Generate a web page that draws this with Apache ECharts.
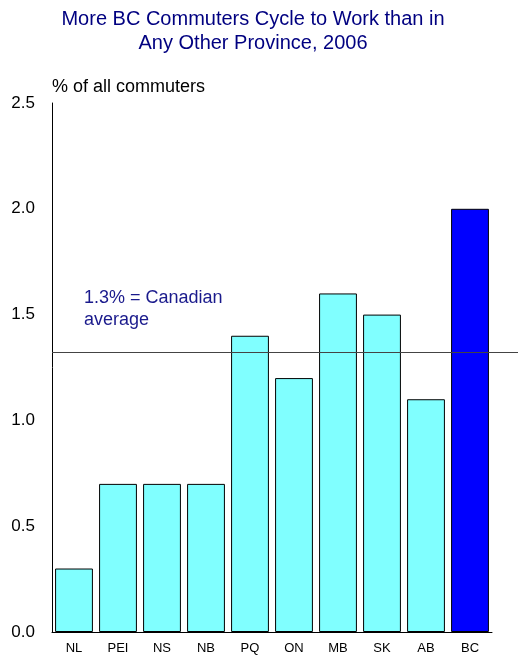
<!DOCTYPE html>
<html>
<head>
<meta charset="utf-8">
<script src="https://cdn.jsdelivr.net/npm/echarts@6/dist/echarts.min.js"></script>
<style>html,body{margin:0;padding:0;background:#fff}#c{width:518px;height:664px}</style>
</head>
<body>
<div id="c"></div>
<script>
var provinces = ['NL','PEI','NS','NB','PQ','ON','MB','SK','AB','BC'];
var cyclePct = [0.3, 0.7, 0.7, 0.7, 1.4, 1.2, 1.6, 1.5, 1.1, 2.0];
var canadianAverage = 1.32;
var yTicks = [0, 0.5, 1.0, 1.5, 2.0, 2.5];
var highlight = 'BC';

var chart = echarts.init(document.getElementById('c'), null, {renderer:'canvas'});
var font = 'Liberation Sans';
chart.setOption({
  animation: false,
  backgroundColor: '#fff',
  title: {
    text: 'More BC Commuters Cycle to Work than in\nAny Other Province, 2006',
    left: 248, textAlign: 'center', top: 2,
    textStyle: {fontFamily: font, fontSize: 20, fontWeight: 'normal', color: '#000080', lineHeight: 24}
  },
  grid: [
    {left: 52, right: 26, top: 103, bottom: 32},
    {left: 52, right: 0, top: 103, bottom: 32}
  ],
  xAxis: [
    {type: 'category', data: provinces, gridIndex: 0,
     axisLine: {lineStyle: {color: '#000', width: 1}},
     axisTick: {alignWithLabel: true, length: 5, lineStyle: {color: '#000'}},
     axisLabel: {fontFamily: font, fontSize: 13, color: '#000', margin: 10}},
    {type: 'value', gridIndex: 1, min: 0, max: 1, show: false}
  ],
  yAxis: [
    {type: 'value', gridIndex: 0, min: yTicks[0], max: yTicks[yTicks.length-1], interval: 0.5,
     name: '% of all commuters', nameLocation: 'end', nameGap: 7,
     nameTextStyle: {fontFamily: font, fontSize: 18, color: '#000', align: 'left'},
     axisLine: {show: true, lineStyle: {color: '#000'}},
     axisTick: {show: false}, splitLine: {show: false},
     axisLabel: {fontFamily: font, fontSize: 17, color: '#000', margin: 17,
       formatter: function(v){ return v.toFixed(1); }}},
    {type: 'value', gridIndex: 1, min: yTicks[0], max: yTicks[yTicks.length-1], show: false}
  ],
  series: [
    {type: 'bar', xAxisIndex: 0, yAxisIndex: 0, barCategoryGap: '14%',
     data: cyclePct.map(function(v, i){
       return {value: v, itemStyle: {color: provinces[i] === highlight ? '#0000FF' : '#80FFFF'}};
     }),
     itemStyle: {borderColor: '#000', borderWidth: 1}},
    {type: 'line', xAxisIndex: 1, yAxisIndex: 1, data: [], z: 5,
     markLine: {symbol: 'none', silent: true, label: {show: false},
       lineStyle: {color: '#444', width: 1, type: 'solid'},
       data: [{yAxis: canadianAverage}]}}
  ],
  graphic: [
    {type: 'text', left: 84, top: 287,
     style: {text: '1.3% = Canadian\naverage', fontFamily: font, fontSize: 18, fill: '#1a1a8c', lineHeight: 22}}
  ]
});
</script>
</body>
</html>
